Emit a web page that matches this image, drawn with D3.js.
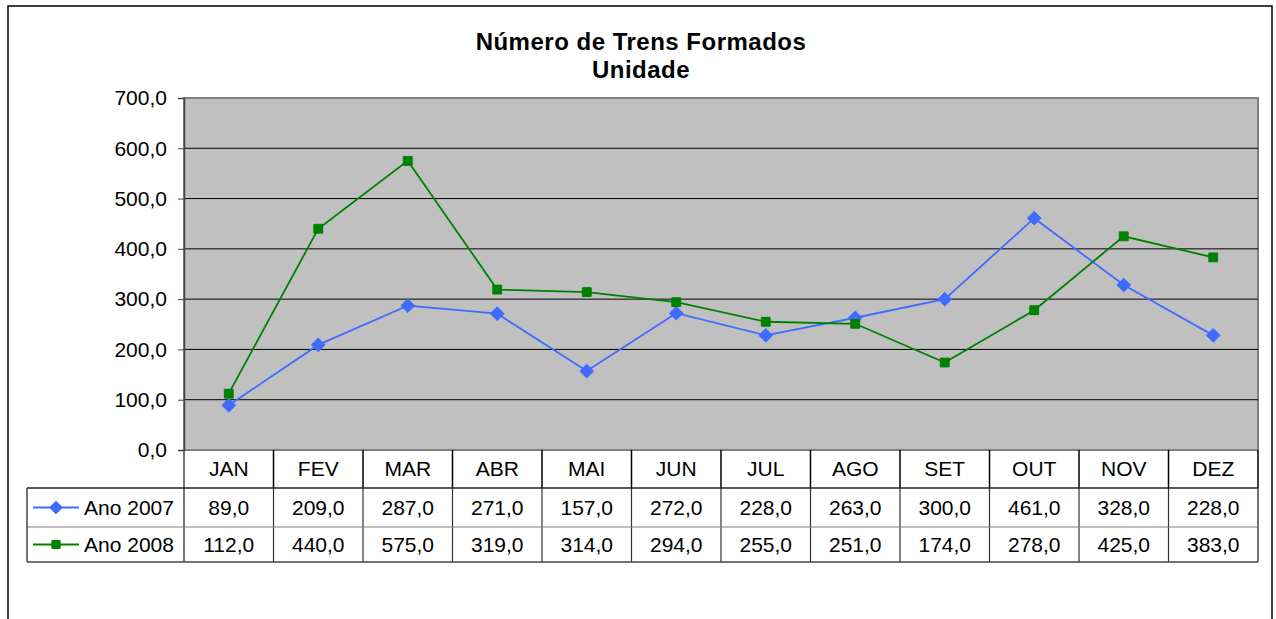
<!DOCTYPE html>
<html lang="pt">
<head>
<meta charset="UTF-8">
<title>Número de Trens Formados</title>
<script src="https://d3js.org/d3.v7.min.js"></script>
<style>
    body { margin: 0; background: #fff; }
    svg { display: block; font-family: "Liberation Sans", Arial, sans-serif; }
</style>
</head>
<body>
<div id="chart"></div>
<script>
    // dados
    const months = ["JAN", "FEV", "MAR", "ABR", "MAI", "JUN", "JUL", "AGO", "SET", "OUT", "NOV", "DEZ"];
    const ano2007 = [89, 209, 287, 271, 157, 272, 228, 263, 300, 461, 328, 228];
    const ano2008 = [112, 440, 575, 319, 314, 294, 255, 251, 174, 278, 425, 383];
    const yTicks = [0, 100, 200, 300, 400, 500, 600, 700];

    const series = [
        { name: "Ano 2007", values: ano2007, color: "#3f6cff", symbol: d3.symbolDiamond2, size: 120 },
        { name: "Ano 2008", values: ano2008, color: "#008000", symbol: d3.symbolSquare2, size: 100 }
    ];

    const width = 1276, height = 619;
    const plot = { left: 184, right: 1258, top: 98, bottom: 450 };
    const rowH = [38, 39, 35]; // cabeçalho, linha 1, linha 2
    const legendLeft = 27;
    const fmt = v => d3.format(".1f")(v).replace(".", ",");

    const svg = d3.select("#chart").append("svg")
        .attr("width", width)
        .attr("height", height);

    // borda externa
    svg.append("rect")
        .attr("x", 8).attr("y", 6)
        .attr("width", 1264).attr("height", 640)
        .attr("fill", "none").attr("stroke", "#000").attr("stroke-width", 1.5);

    // título
    const title = svg.append("text")
        .attr("text-anchor", "middle")
        .attr("font-weight", "bold")
        .attr("font-size", 24)
        .attr("letter-spacing", 0.5);
    title.append("tspan").attr("x", 641).attr("y", 50).text("Número de Trens Formados");
    title.append("tspan").attr("x", 641).attr("y", 78).text("Unidade");

    const x = d3.scaleBand().domain(months).range([plot.left, plot.right]);
    const y = d3.scaleLinear().domain([0, 700]).range([plot.bottom, plot.top]);

    // área do gráfico
    svg.append("rect")
        .attr("x", plot.left).attr("y", plot.top)
        .attr("width", plot.right - plot.left).attr("height", plot.bottom - plot.top)
        .attr("fill", "#c0c0c0").attr("stroke", "#808080").attr("stroke-width", 2);

    // grade
    svg.append("g").selectAll("line")
        .data(yTicks.filter(d => d > 0 && d < 700))
        .join("line")
        .attr("x1", plot.left).attr("x2", plot.right)
        .attr("y1", d => y(d)).attr("y2", d => y(d))
        .attr("stroke", "#000").attr("stroke-width", 1);

    // eixo y
    const yAxis = svg.append("g")
        .attr("transform", `translate(${plot.left},0)`)
        .call(d3.axisLeft(y).tickValues(yTicks).tickFormat(fmt).tickSize(6).tickPadding(11));
    yAxis.select(".domain").attr("stroke", "#444").attr("stroke-width", 1.5);
    yAxis.selectAll(".tick line").attr("stroke", "#444");
    yAxis.selectAll("text")
        .attr("font-size", 21)
        .attr("font-family", "'Liberation Sans', Arial, sans-serif")
        .attr("fill", "#000");

    // linhas e marcadores
    const line = d3.line()
        .x((d, i) => x(months[i]) + x.bandwidth() / 2)
        .y(d => y(d));

    series.forEach(s => {
        svg.append("path")
            .datum(s.values)
            .attr("d", line)
            .attr("fill", "none")
            .attr("stroke", s.color)
            .attr("stroke-width", 1.8);
        svg.append("g").selectAll("path")
            .data(s.values)
            .join("path")
            .attr("transform", (d, i) => `translate(${x(months[i]) + x.bandwidth() / 2},${y(d)})`)
            .attr("d", d3.symbol().type(s.symbol).size(s.size))
            .attr("fill", s.color)
            .attr("stroke", s.color)
            .attr("stroke-width", 1);
    });

    // tabela de dados
    const tableTop = plot.bottom;
    const row1Top = tableTop + rowH[0];
    const row2Top = row1Top + rowH[1];
    const tableBottom = row2Top + rowH[2];
    const table = svg.append("g");

    // cabeçalho
    table.selectAll(".month")
        .data(months)
        .join("text")
        .attr("x", d => x(d) + x.bandwidth() / 2)
        .attr("y", tableTop + rowH[0] / 2 + 7)
        .attr("text-anchor", "middle")
        .attr("font-size", 21)
        .text(d => d);

    // linhas verticais do cabeçalho
    table.selectAll(".vh")
        .data(months.slice(1))
        .join("line")
        .attr("x1", d => x(d)).attr("x2", d => x(d))
        .attr("y1", tableTop).attr("y2", row1Top)
        .attr("stroke", "#000").attr("stroke-width", 1.5);
    table.append("line")
        .attr("x1", plot.right).attr("x2", plot.right)
        .attr("y1", tableTop).attr("y2", row1Top)
        .attr("stroke", "#000").attr("stroke-width", 1.5);
    table.append("line")
        .attr("x1", plot.left).attr("x2", plot.left)
        .attr("y1", tableTop).attr("y2", tableBottom)
        .attr("stroke", "#444").attr("stroke-width", 1.5);

    // linhas verticais dos dados
    table.selectAll(".vd")
        .data(months.slice(1))
        .join("line")
        .attr("x1", d => x(d)).attr("x2", d => x(d))
        .attr("y1", row1Top).attr("y2", tableBottom)
        .attr("stroke", "#333").attr("stroke-width", 1.2);

    // linhas horizontais
    table.append("line")
        .attr("x1", legendLeft).attr("x2", plot.right)
        .attr("y1", row1Top).attr("y2", row1Top)
        .attr("stroke", "#222").attr("stroke-width", 1.5);
    table.append("line")
        .attr("x1", legendLeft).attr("x2", plot.right)
        .attr("y1", row2Top).attr("y2", row2Top)
        .attr("stroke", "#808080").attr("stroke-width", 1.2);
    table.append("line")
        .attr("x1", legendLeft).attr("x2", plot.right)
        .attr("y1", tableBottom).attr("y2", tableBottom)
        .attr("stroke", "#444").attr("stroke-width", 1.5);
    table.append("line")
        .attr("x1", legendLeft).attr("x2", legendLeft)
        .attr("y1", row1Top).attr("y2", tableBottom)
        .attr("stroke", "#444").attr("stroke-width", 1.5);
    table.append("line")
        .attr("x1", plot.right).attr("x2", plot.right)
        .attr("y1", row1Top).attr("y2", tableBottom)
        .attr("stroke", "#444").attr("stroke-width", 1.5);

    // linhas de valores
    const rowTops = [row1Top, row2Top];
    series.forEach((s, k) => {
        const cy = rowTops[k] + rowH[k + 1] / 2;
        const g = table.append("g");
        g.append("line")
            .attr("x1", 33).attr("x2", 79)
            .attr("y1", cy).attr("y2", cy)
            .attr("stroke", s.color).attr("stroke-width", 1.8);
        g.append("path")
            .attr("transform", `translate(56,${cy})`)
            .attr("d", d3.symbol().type(s.symbol).size(s.size * 0.85))
            .attr("fill", s.color).attr("stroke", s.color);
        g.append("text")
            .attr("x", 84).attr("y", cy + 7.5)
            .attr("font-size", 21)
            .text(s.name);
        g.selectAll(".val")
            .data(s.values)
            .join("text")
            .attr("x", (d, i) => x(months[i]) + x.bandwidth() / 2)
            .attr("y", cy + 7.5)
            .attr("text-anchor", "middle")
            .attr("font-size", 21)
            .text(d => fmt(d));
    });
</script>
</body>
</html>
